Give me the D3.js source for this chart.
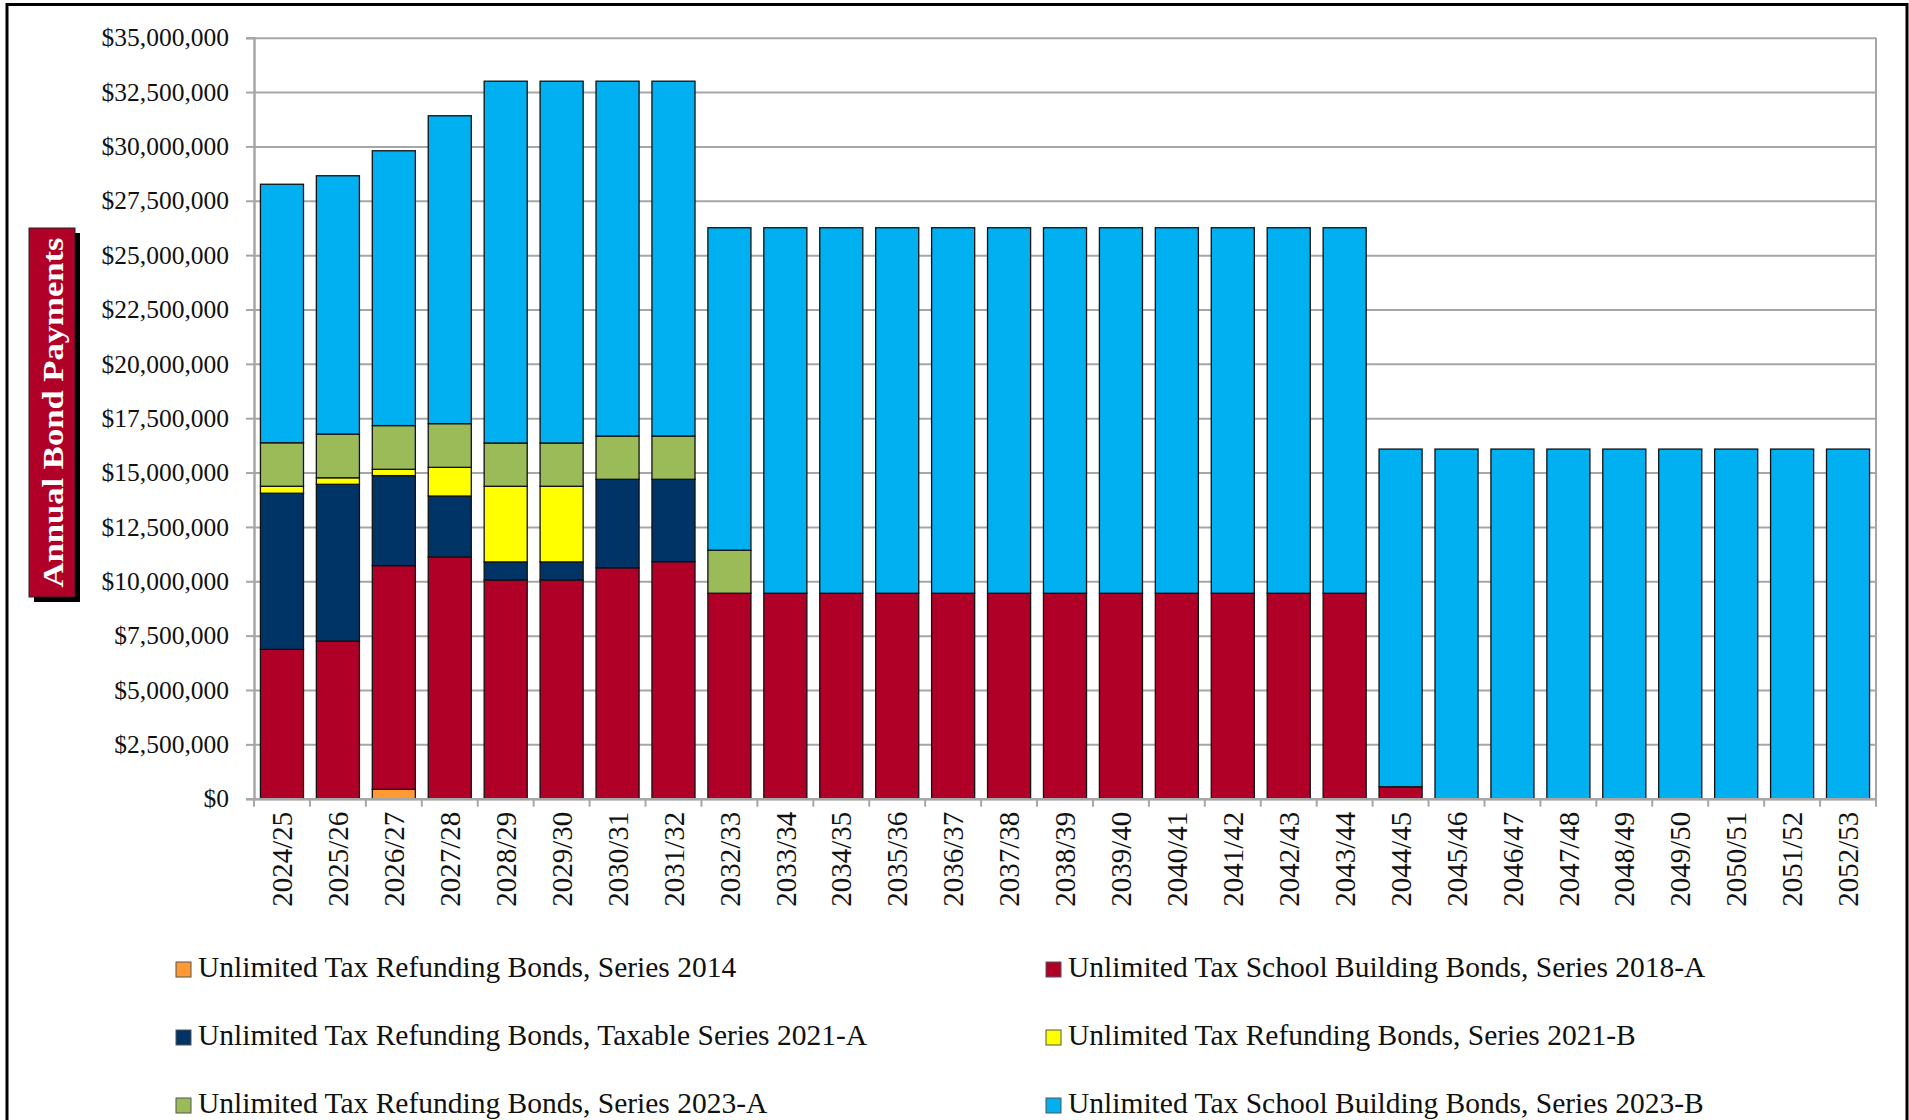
<!DOCTYPE html>
<html>
<head>
<meta charset="utf-8">
<script src="https://cdn.jsdelivr.net/npm/d3@7"></script>
<style>
  html, body { margin: 0; padding: 0; background: #ffffff; }
  svg { display: block; }
  text { font-family: "Liberation Serif", "Times New Roman", serif; }
</style>
</head>
<body>
<svg id="chart" width="1909" height="1120"></svg>
<script>
// ---------------- DATA ----------------
const categories = ["2024/25","2025/26","2026/27","2027/28","2028/29","2029/30","2030/31","2031/32","2032/33","2033/34",
  "2034/35","2035/36","2036/37","2037/38","2038/39","2039/40","2040/41","2041/42","2042/43","2043/44",
  "2044/45","2045/46","2046/47","2047/48","2048/49","2049/50","2050/51","2051/52","2052/53"];

const seriesNames = [
  "Unlimited Tax Refunding Bonds, Series 2014",
  "Unlimited Tax School Building Bonds, Series 2018-A",
  "Unlimited Tax Refunding Bonds, Taxable Series 2021-A",
  "Unlimited Tax Refunding Bonds, Series 2021-B",
  "Unlimited Tax Refunding Bonds, Series 2023-A",
  "Unlimited Tax School Building Bonds, Series 2023-B"
];

const series2014  = [0, 0, 430000, 0, 0, 0, 0, 0, 0, 0, 0, 0, 0, 0, 0, 0, 0, 0, 0, 0, 0, 0, 0, 0, 0, 0, 0, 0, 0];
const series2018A = [6870000, 7250000, 10290000, 11120000, 10060000, 10060000, 10620000, 10900000, 9450000, 9450000,
  9450000, 9450000, 9450000, 9450000, 9450000, 9450000, 9450000, 9450000, 9450000, 9450000,
  550000, 0, 0, 0, 0, 0, 0, 0, 0];
const series2021A = [7180000, 7210000, 4140000, 2800000, 830000, 830000, 4070000, 3790000, 0, 0,
  0, 0, 0, 0, 0, 0, 0, 0, 0, 0, 0, 0, 0, 0, 0, 0, 0, 0, 0];
const series2021B = [320000, 300000, 290000, 1320000, 3480000, 3480000, 0, 0, 0, 0,
  0, 0, 0, 0, 0, 0, 0, 0, 0, 0, 0, 0, 0, 0, 0, 0, 0, 0, 0];
const series2023A = [2000000, 2010000, 2010000, 2010000, 1990000, 1990000, 1990000, 1990000, 1980000, 0,
  0, 0, 0, 0, 0, 0, 0, 0, 0, 0, 0, 0, 0, 0, 0, 0, 0, 0, 0];
const series2023B = [11890000, 11880000, 12640000, 14160000, 16640000, 16640000, 16320000, 16320000, 14830000, 16810000,
  16810000, 16810000, 16810000, 16810000, 16810000, 16810000, 16810000, 16810000, 16810000, 16810000,
  15530000, 16080000, 16080000, 16080000, 16080000, 16080000, 16080000, 16080000, 16080000];

const yTicks = [0, 2500000, 5000000, 7500000, 10000000, 12500000, 15000000, 17500000,
  20000000, 22500000, 25000000, 27500000, 30000000, 32500000, 35000000];

const colors = ["#FF9933", "#B00028", "#003366", "#FFFF00", "#9BBB59", "#00B0F0"];
const yAxisTitle = "Annual Bond Payments";

// ---------------- BUILD TABLE ----------------
const keys = ["s2014","s2018A","s2021A","s2021B","s2023A","s2023B"];
const allSeries = [series2014, series2018A, series2021A, series2021B, series2023A, series2023B];
const table = categories.map((c, i) => {
  const row = { cat: c };
  keys.forEach((k, j) => row[k] = allSeries[j][i]);
  return row;
});

// ---------------- LAYOUT ----------------
const svg = d3.select("#chart");
const plot = { left: 254, right: 1876, top: 37.7, bottom: 798.7 };

// outer frame
svg.append("rect")
  .attr("x", 7).attr("y", 4.5).attr("width", 1900).attr("height", 1250)
  .attr("fill", "#ffffff").attr("stroke", "#000").attr("stroke-width", 3);

const x = d3.scaleBand().domain(categories)
  .range([plot.left, plot.right]).paddingInner(0.23).paddingOuter(0.115);
const y = d3.scaleLinear().domain([0, 35000000]).range([plot.bottom, plot.top]);

// gridlines
const grid = svg.append("g").attr("transform", `translate(${plot.left},0)`)
  .call(d3.axisLeft(y).tickValues(yTicks).tickSize(-(plot.right - plot.left)).tickFormat(""));
grid.select(".domain").remove();
grid.selectAll(".tick line").attr("stroke", "#a6a6a6").attr("stroke-width", 2);

// right border of plot area
svg.append("line")
  .attr("x1", plot.right).attr("x2", plot.right)
  .attr("y1", y(35000000)).attr("y2", y(0))
  .attr("stroke", "#a6a6a6").attr("stroke-width", 2);

// bars
const stack = d3.stack().keys(keys);
const stacked = stack(table);
svg.append("g").selectAll("g")
  .data(stacked).join("g")
  .attr("fill", (d, i) => colors[i])
  .selectAll("rect")
  .data(d => d.filter(s => s[1] - s[0] > 0))
  .join("rect")
  .attr("x", d => x(d.data.cat))
  .attr("width", x.bandwidth())
  .attr("y", d => y(d[1]))
  .attr("height", d => y(d[0]) - y(d[1]))
  .attr("stroke", "#111")
  .attr("stroke-width", 1.3);

// y axis
const yAxis = svg.append("g").attr("transform", `translate(${plot.left},0)`)
  .call(d3.axisLeft(y).tickValues(yTicks).tickSize(8).tickPadding(17)
    .tickFormat(v => "$" + d3.format(",")(v)));
yAxis.select(".domain").attr("stroke", "#a6a6a6").attr("stroke-width", 2.5);
yAxis.selectAll(".tick line").attr("stroke", "#a6a6a6").attr("stroke-width", 2);
yAxis.selectAll(".tick text")
  .attr("font-family", "Liberation Serif, serif")
  .attr("font-size", 25.5).attr("fill", "#111");

// x axis
const xAxis = svg.append("g").attr("transform", `translate(0,${plot.bottom})`)
  .call(d3.axisBottom(x).tickSize(0));
xAxis.select(".domain").attr("stroke", "#a6a6a6").attr("stroke-width", 2.5);
xAxis.selectAll(".tick text")
  .attr("font-family", "Liberation Serif, serif")
  .attr("font-size", 29).attr("fill", "#111")
  .attr("text-anchor", "end")
  .attr("transform", "rotate(-90)")
  .attr("x", -13).attr("y", 0).attr("dy", "0.35em");
// boundary ticks
const boundaries = categories.map(c => x(c) - x.step() * x.paddingInner() / 2)
  .concat([x(categories[categories.length - 1]) + x.bandwidth() + x.step() * x.paddingInner() / 2]);
svg.append("g").selectAll("line").data(boundaries).join("line")
  .attr("x1", d => d).attr("x2", d => d)
  .attr("y1", plot.bottom).attr("y2", plot.bottom + 8)
  .attr("stroke", "#a6a6a6").attr("stroke-width", 2);

// y axis title box
const tb = { x: 29, y: 228, w: 46, h: 369 };
svg.append("rect").attr("x", tb.x + 5).attr("y", tb.y + 5).attr("width", tb.w).attr("height", tb.h).attr("fill", "#000");
svg.append("rect").attr("x", tb.x).attr("y", tb.y).attr("width", tb.w).attr("height", tb.h)
  .attr("fill", "#B00028").attr("stroke", "#222").attr("stroke-width", 1);
svg.append("text")
  .attr("transform", `translate(${tb.x + tb.w / 2 + 1},${tb.y + tb.h / 2}) rotate(-90)`)
  .attr("text-anchor", "middle").attr("dy", "0.35em")
  .attr("font-size", 29).attr("font-weight", "bold").attr("fill", "#fff")
  .attr("textLength", 350).attr("lengthAdjust", "spacingAndGlyphs")
  .text(yAxisTitle);

// legend
const legendPos = [
  { x: 176, y: 977 }, { x: 1046, y: 977 },
  { x: 176, y: 1045 }, { x: 1046, y: 1045 },
  { x: 176, y: 1113 }, { x: 1046, y: 1113 }
];
const legend = svg.append("g").selectAll("g").data(seriesNames).join("g")
  .attr("transform", (d, i) => `translate(${legendPos[i].x},${legendPos[i].y})`);
legend.append("rect").attr("x", 0).attr("y", -15).attr("width", 15).attr("height", 15)
  .attr("fill", (d, i) => colors[i]).attr("stroke", "#555").attr("stroke-width", 1);
legend.append("text").attr("x", 22).attr("y", 0)
  .attr("font-size", 29.5).attr("fill", "#111")
  .text(d => d);
</script>
</body>
</html>
